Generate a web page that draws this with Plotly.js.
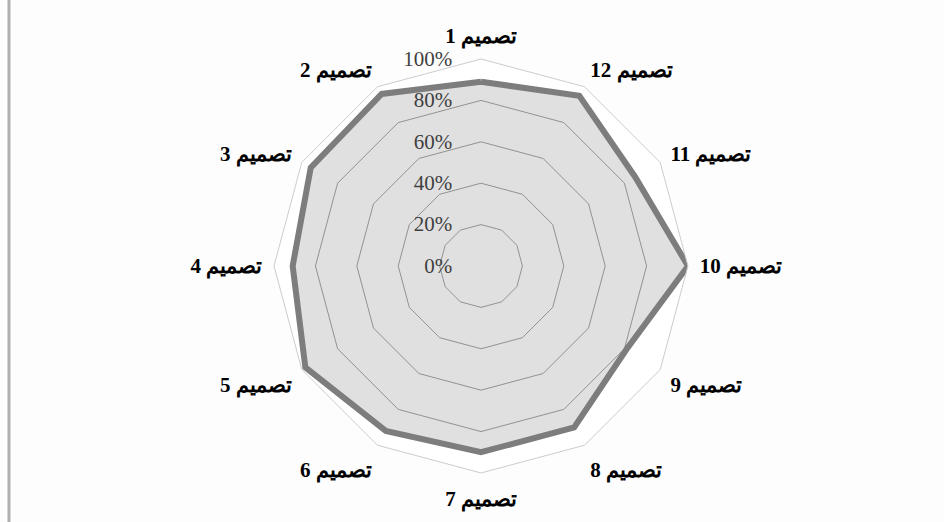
<!DOCTYPE html>
<html>
<head>
<meta charset="utf-8">
<script src="https://cdn.plot.ly/plotly-3.0.1.min.js"></script>
<style>html,body{margin:0;padding:0;background:#fdfdfd;}#chart{width:944px;height:522px;}</style>
</head>
<body>
<div id="chart"></div>
<script>
const designs = ['تصميم 1','تصميم 2','تصميم 3','تصميم 4','تصميم 5','تصميم 6','تصميم 7','تصميم 8','تصميم 9','تصميم 10','تصميم 11','تصميم 12'];
const scores = [0.89, 0.96, 0.95, 0.91, 0.98, 0.92, 0.90, 0.90, 0.81, 1.00, 0.86, 0.95];
const radialTicks = [0, 0.2, 0.4, 0.6, 0.8, 1.0];
const radialTickText = ['0%', '20%', '40%', '60%', '80%', '100%'];

const labels = designs.map(d => '\u202B' + d + '\u202C');

const trace = {
  type: 'scatterpolar',
  r: scores.concat([scores[0]]),
  theta: labels.concat([labels[0]]),
  mode: 'lines',
  fill: 'toself',
  fillcolor: 'rgba(48,48,48,0.15)',
  line: {color: 'rgb(125,125,125)', width: 6},
  hoverinfo: 'skip',
  showlegend: false
};

const layout = {
  width: 944, height: 522,
  margin: {l: 0, r: 0, t: 0, b: 0},
  paper_bgcolor: '#fdfdfd',
  showlegend: false,
  polar: {
    domain: {x: [0.2903, 0.7288], y: [0.0939, 0.887]},
    bgcolor: 'rgba(255,255,255,1)',
    gridshape: 'linear',
    radialaxis: {
      range: [0, 1],
      tickvals: radialTicks,
      ticktext: radialTickText,
      angle: 90,
      side: 'counterclockwise',
      showline: false,
      ticks: 'outside',
      ticklen: 21,
      tickcolor: 'rgba(0,0,0,0)',
      gridcolor: '#a4a4a4',
      gridwidth: 1,
      tickfont: {family: 'Liberation Serif', size: 21, color: '#404040'},
      tickangle: 90
    },
    angularaxis: {
      rotation: 90,
      direction: 'counterclockwise',
      showgrid: false,
      showline: true,
      linecolor: '#cccccc',
      linewidth: 1,
      ticks: 'outside',
      ticklen: 7,
      tickcolor: 'rgba(0,0,0,0)',
      tickfont: {family: 'Liberation Serif', size: 21, color: '#000000', weight: 'bold'}
    }
  },
  shapes: [
    {type: 'line', xref: 'paper', yref: 'paper', x0: 0.0095, x1: 0.0095, y0: 0, y1: 1,
     line: {color: '#b0b0b0', width: 3}}
  ]
};

Plotly.newPlot('chart', [trace], layout, {displayModeBar: false, staticPlot: true});
</script>
</body>
</html>
